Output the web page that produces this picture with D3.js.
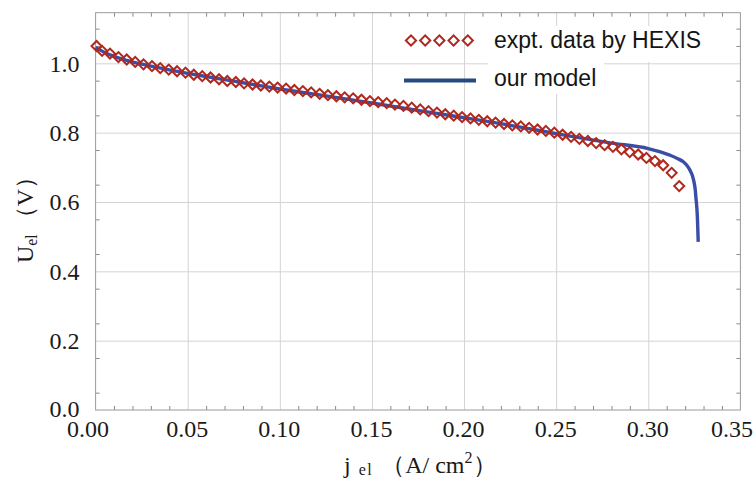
<!DOCTYPE html>
<html>
<head>
<meta charset="utf-8">
<script src="https://cdn.jsdelivr.net/npm/d3@7"></script>
<style>
  html, body { margin: 0; padding: 0; background: #fff; }
  svg { display: block; }
</style>
</head>
<body>
<svg id="chart" width="754" height="481"></svg>
<script>
// ---------- data ----------
const xTickValues = [0, 0.05, 0.10, 0.15, 0.20, 0.25, 0.30, 0.35];
const xTickLabels = ["0.00", "0.05", "0.10", "0.15", "0.20", "0.25", "0.30", "0.35"];
const yTickValues = [0, 0.2, 0.4, 0.6, 0.8, 1.0];
const yTickLabels = ["0.0", "0.2", "0.4", "0.6", "0.8", "1.0"];
const xMinorTicks = [0.01,0.02,0.03,0.04,0.06,0.07,0.08,0.09,0.11,0.12,0.13,0.14,0.16,0.17,0.18,0.19,0.21,0.22,0.23,0.24,0.26,0.27,0.28,0.29,0.31,0.32,0.33,0.34];
const yMinorTicks = [0.05,0.15,0.25,0.35,0.45,0.55,0.65,0.75,0.85,0.95,1.05,1.10];

const seriesNames = ["expt. data by HEXIS", "our model"];

// experimental data (HEXIS): current density j_el (A/cm2) and voltage U_el (V)
const exptJ = [0.0005,0.0035,0.0078,0.0124,0.0169,0.0215,0.0260,0.0306,0.0351,0.0397,0.0442,0.0488,0.0533,0.0579,0.0624,0.0670,0.0715,0.0761,0.0806,0.0852,0.0897,0.0943,0.0988,0.1034,0.1079,0.1125,0.1170,0.1216,0.1261,0.1307,0.1352,0.1398,0.1443,0.1489,0.1534,0.1580,0.1625,0.1671,0.1716,0.1762,0.1807,0.1853,0.1898,0.1944,0.1989,0.2035,0.2080,0.2126,0.2171,0.2217,0.2262,0.2308,0.2353,0.2399,0.2444,0.2490,0.2535,0.2581,0.2626,0.2672,0.2717,0.2763,0.2808,0.2854,0.2899,0.2945,0.2990,0.3036,0.3081,0.3127,0.3168];
const exptU = [1.050,1.036,1.028,1.018,1.011,1.004,0.997,0.992,0.986,0.982,0.977,0.973,0.967,0.963,0.959,0.954,0.949,0.946,0.942,0.939,0.936,0.933,0.930,0.927,0.923,0.920,0.916,0.912,0.908,0.905,0.902,0.899,0.895,0.891,0.888,0.885,0.881,0.877,0.872,0.867,0.862,0.858,0.853,0.849,0.845,0.841,0.837,0.833,0.829,0.825,0.821,0.818,0.814,0.809,0.805,0.800,0.794,0.788,0.782,0.776,0.770,0.764,0.759,0.752,0.744,0.737,0.727,0.718,0.706,0.684,0.646];

// model curve
const modelJ = [0.000,0.005,0.010,0.020,0.030,0.040,0.050,0.060,0.070,0.080,0.090,0.100,0.120,0.140,0.160,0.180,0.200,0.220,0.240,0.2575,0.280,0.300,0.3117,0.3160,0.3190,0.3210,0.3226,0.3240,0.3248,0.3255,0.3259,0.3264,0.3267,0.3271];
const modelU = [1.046,1.031,1.020,1.004,0.992,0.981,0.971,0.962,0.953,0.944,0.935,0.926,0.910,0.894,0.877,0.860,0.843,0.826,0.807,0.790,0.770,0.754,0.735,0.725,0.716,0.705,0.692,0.675,0.658,0.635,0.610,0.580,0.550,0.485];

// ---------- layout ----------
const svg = d3.select("#chart");
const plotL = 95.6, plotR = 740.4, plotT = 12.7, plotB = 410;
const x = d3.scaleLinear().domain([0, 0.35]).range([plotL, plotR]);
const y = d3.scaleLinear().domain([0, 1.146]).range([plotB, plotT]);

const gridColor = "#d4d4d4";
const frameColor = "#9a9a9a";
const tickColor = "#8a8a8a";
const serif = "'Liberation Serif', 'Times New Roman', serif";
const sans = "'Liberation Sans', Arial, sans-serif";

// gridlines
const gx = svg.append("g").attr("transform", `translate(0,${plotB})`)
  .call(d3.axisBottom(x).tickValues(xTickValues.slice(1, -1)).tickSize(-(plotB - plotT)).tickFormat(""));
gx.select(".domain").remove();
gx.selectAll("line").attr("stroke", gridColor).attr("stroke-width", 1);

const gy = svg.append("g").attr("transform", `translate(${plotL},0)`)
  .call(d3.axisLeft(y).tickValues(yTickValues.slice(1)).tickSize(-(plotR - plotL)).tickFormat(""));
gy.select(".domain").remove();
gy.selectAll("line").attr("stroke", gridColor).attr("stroke-width", 1);

// minor ticks (inward) on all four sides
function styleTicks(g) {
  g.select(".domain").remove();
  g.selectAll("line").attr("stroke", tickColor).attr("stroke-width", 1);
}
svg.append("g").attr("transform", `translate(0,${plotB})`)
  .call(d3.axisBottom(x).tickValues(xMinorTicks).tickSize(-4).tickFormat("")).call(styleTicks);
svg.append("g").attr("transform", `translate(0,${plotT})`)
  .call(d3.axisTop(x).tickValues(xMinorTicks).tickSize(-4).tickFormat("")).call(styleTicks);
svg.append("g").attr("transform", `translate(${plotL},0)`)
  .call(d3.axisLeft(y).tickValues(yMinorTicks).tickSize(-4).tickFormat("")).call(styleTicks);
svg.append("g").attr("transform", `translate(${plotR},0)`)
  .call(d3.axisRight(y).tickValues(yMinorTicks).tickSize(-4).tickFormat("")).call(styleTicks);

// frame
svg.append("rect").attr("x", plotL).attr("y", plotT)
  .attr("width", plotR - plotL).attr("height", plotB - plotT)
  .attr("fill", "none").attr("stroke", frameColor).attr("stroke-width", 1);

// tick labels
const xl = svg.append("g").attr("transform", `translate(0,${plotB})`)
  .call(d3.axisBottom(x).tickValues(xTickValues).tickSize(0).tickFormat((d, i) => xTickLabels[i]));
xl.select(".domain").remove();
xl.selectAll("text").attr("y", 27).attr("dy", 0)
  .attr("font-family", serif).attr("font-size", 24).attr("fill", "#1a1a1a")
  .attr("dx", (d, i) => i === 0 ? -8 : (i === xTickValues.length - 1 ? -9 : -1));

const yl = svg.append("g").attr("transform", `translate(${plotL},0)`)
  .call(d3.axisLeft(y).tickValues(yTickValues).tickSize(0).tickFormat((d, i) => yTickLabels[i]));
yl.select(".domain").remove();
yl.selectAll("text").attr("x", -16).attr("dy", (d, i) => i === 0 ? "0.28em" : "0.33em")
  .attr("font-family", serif).attr("font-size", 24).attr("fill", "#1a1a1a");

// model line
const lineColor = "#3a4ea6";
const modelData = modelJ.map((j, i) => [j, modelU[i]]);
svg.append("path").datum(modelData)
  .attr("fill", "none").attr("stroke", lineColor).attr("stroke-width", 3.4)
  .attr("stroke-linejoin", "round").attr("stroke-linecap", "butt")
  .attr("d", d3.line().x(d => x(d[0])).y(d => y(d[1])).curve(d3.curveMonotoneX));

// experimental diamonds
const diaColor = "#b0281d";
const diamond = d3.symbol().type(d3.symbolSquare).size(50);
const exptData = exptJ.map((j, i) => [j, exptU[i]]);
svg.append("g").selectAll("path").data(exptData).join("path")
  .attr("d", diamond)
  .attr("transform", d => `translate(${x(d[0])},${y(d[1])}) rotate(45)`)
  .attr("fill", "none").attr("stroke", diaColor).attr("stroke-width", 2);

// legend
const leg = svg.append("g");
leg.append("rect").attr("x", 488).attr("y", 26).attr("width", 220).attr("height", 36).attr("fill", "#fff");
leg.append("rect").attr("x", 488).attr("y", 62).attr("width", 116).attr("height", 32).attr("fill", "#fff");
const legDiamond = d3.symbol().type(d3.symbolSquare).size(52);
[0, 1, 2, 3, 4].forEach(k => {
  leg.append("path").attr("d", legDiamond)
    .attr("transform", `translate(${411 + k * 14.2},40.5) rotate(45)`)
    .attr("fill", "none").attr("stroke", diaColor).attr("stroke-width", 2);
});
leg.append("line").attr("x1", 404).attr("x2", 476).attr("y1", 80.5).attr("y2", 80.5)
  .attr("stroke", "#244a80").attr("stroke-width", 4);
leg.append("text").attr("x", 494).attr("y", 47.5).text(seriesNames[0])
  .attr("font-family", sans).attr("font-size", 23).attr("fill", "#151515");
leg.append("text").attr("x", 494).attr("y", 85.5).text(seriesNames[1])
  .attr("font-family", sans).attr("font-size", 23).attr("fill", "#151515");

// axis titles
const xt = svg.append("text").attr("x", 344).attr("y", 473)
  .attr("font-family", serif).attr("font-size", 24).attr("fill", "#1a1a1a");
xt.append("tspan").text("j");
xt.append("tspan").attr("font-size", 16).attr("letter-spacing", 1.5).attr("dx", 8).attr("dy", 2).text("el");
xt.append("tspan").attr("dx", 8).attr("dy", -2).text("（A/ cm");
xt.append("tspan").attr("font-size", 16).attr("dy", -10).text("2");
xt.append("tspan").attr("dy", 10).text("）");

const yt = svg.append("text").attr("transform", "translate(33,214) rotate(-90)")
  .attr("text-anchor", "middle")
  .attr("font-family", serif).attr("font-size", 24).attr("fill", "#1a1a1a");
yt.append("tspan").text("U");
yt.append("tspan").attr("font-size", 16).attr("dy", 4).text("el");
yt.append("tspan").attr("dx", 4).attr("dy", -4).text("（V）");
</script>
</body>
</html>
